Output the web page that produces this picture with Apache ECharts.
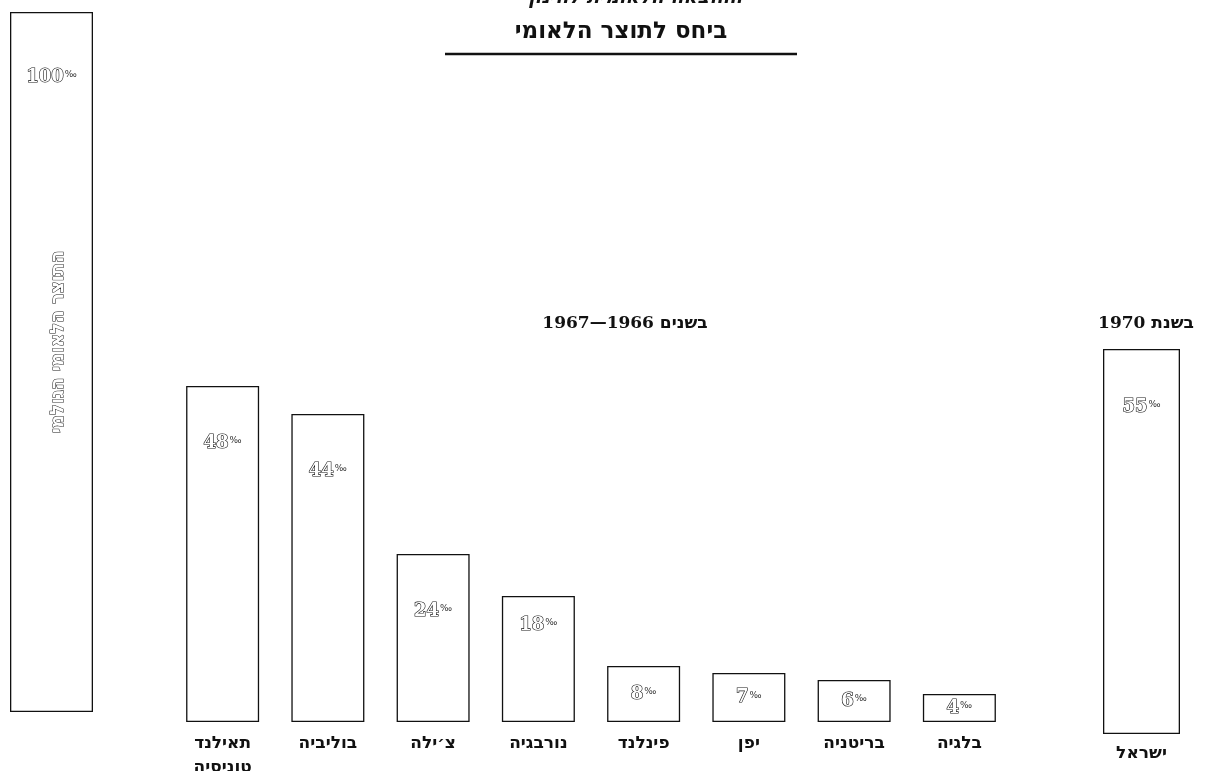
<!DOCTYPE html>
<html>
<head>
<meta charset="utf-8">
<script src="https://cdn.jsdelivr.net/npm/echarts@6/dist/echarts.min.js"></script>
<style>html,body{margin:0;padding:0;background:#fff;}#c{width:1213px;height:771px;}</style>
</head>
<body>
<div id="c"></div>
<script>
// ---- data ----
const baseCategory = ['התוצר הלאומי הגולמי'];
const baseValues = [100];
const countries = ['תאילנד\nטוניסיה', 'בוליביה', 'צ׳ילה', 'נורבגיה', 'פינלנד', 'יפן', 'בריטניה', 'בלגיה'];
const countryValues = [48, 44, 24, 18, 8, 7, 6, 4];
const israelCategory = ['ישראל'];
const israelValues = [55];
const titleText = 'ביחס לתוצר הלאומי';
const topText = 'ההוצאה הלאומית לחינוך';
const periodText = 'בשנים 1966—1967';
const yearText = 'בשנת 1970';
const unit = '‰';

// ---- styles ----
const barStyle = { color: '#fff', borderColor: '#111', borderWidth: 1.3 };
const rich = {
  n: { fontFamily: 'DejaVu Serif', fontWeight: 'bold', fontSize: 18, color: '#fff',
       textBorderColor: '#111', textBorderWidth: 1.2 },
  p: { fontFamily: 'DejaVu Sans', fontSize: 9, color: '#333', padding: [0, 0, 4, 1] }
};
function labelFor(v) {
  let lab = { show: true, formatter: '{n|' + v + '}{p|' + unit + '}', rich: rich };
  if (v >= 20) { lab.position = 'insideTop'; lab.distance = 48; }
  else if (v >= 10) { lab.position = 'insideTop'; lab.distance = 20; }
  else { lab.position = 'inside'; }
  return lab;
}
const catLabel = { fontFamily: 'DejaVu Sans', fontWeight: 'bold', fontSize: 17, color: '#111', lineHeight: 24 };
const hiddenAxis = { axisLine: { show: false }, axisTick: { show: false }, splitLine: { show: false } };

const chart = echarts.init(document.getElementById('c'), null, { renderer: 'canvas' });
chart.setOption({
  backgroundColor: '#fff',
  animation: false,
  grid: [
    { left: 10, width: 83, top: 12, height: 700, outerBoundsMode: 'none', containLabel: false },
    { left: 170, width: 842, top: 22, height: 700, outerBoundsMode: 'none', containLabel: false },
    { left: 1103, width: 77, top: 34, height: 700, outerBoundsMode: 'none', containLabel: false }
  ],
  xAxis: [
    Object.assign({ type: 'category', gridIndex: 0, data: baseCategory, axisLabel: { show: false } }, hiddenAxis),
    Object.assign({ type: 'category', gridIndex: 1, data: countries, axisLabel: Object.assign({ margin: 10, interval: 0 }, catLabel) }, hiddenAxis),
    Object.assign({ type: 'category', gridIndex: 2, data: israelCategory, axisLabel: Object.assign({ margin: 8 }, catLabel) }, hiddenAxis)
  ],
  yAxis: [0, 1, 2].map(i => Object.assign({ type: 'value', gridIndex: i, min: 0, max: 100, show: false }, hiddenAxis)),
  series: [
    { type: 'bar', xAxisIndex: 0, yAxisIndex: 0, barWidth: 83, itemStyle: barStyle,
      data: baseValues.map(v => ({ value: v, label: Object.assign(labelFor(v), { distance: 56 }) })) },
    { type: 'bar', xAxisIndex: 1, yAxisIndex: 1, barWidth: 73, itemStyle: barStyle,
      data: countryValues.map(v => ({ value: v, label: labelFor(v) })) },
    { type: 'bar', xAxisIndex: 2, yAxisIndex: 2, barWidth: 77, itemStyle: barStyle,
      data: israelValues.map(v => ({ value: v, label: Object.assign(labelFor(v), { distance: 49 }) })) }
  ],
  graphic: [
    { type: 'text', z: 100, x: 633, y: -2, style: { text: topText, font: 'italic bold 19px "DejaVu Sans"', fill: '#111', align: 'center', verticalAlign: 'middle' } },
    { type: 'text', z: 100, x: 621, y: 32, style: { text: titleText, font: 'bold 23px "DejaVu Sans"', fill: '#111', align: 'center', verticalAlign: 'middle' } },
    { type: 'line', z: 100, shape: { x1: 445, y1: 54, x2: 797, y2: 54 }, style: { stroke: '#111', lineWidth: 2.5 } },
    { type: 'text', z: 100, x: 625, y: 324, style: { text: periodText, font: 'bold 17px "DejaVu Serif", "DejaVu Sans"', fill: '#111', align: 'center', verticalAlign: 'middle' } },
    { type: 'text', z: 100, x: 1146, y: 324, style: { text: yearText, font: 'bold 17px "DejaVu Serif", "DejaVu Sans"', fill: '#111', align: 'center', verticalAlign: 'middle' } },
    { type: 'text', z: 100, x: 58, y: 342, rotation: Math.PI / 2, style: { text: baseCategory[0], font: 'bold 18px "DejaVu Sans"', fill: '#fff', stroke: '#111', lineWidth: 1, align: 'center', verticalAlign: 'middle' } }
  ]
});
</script>
</body>
</html>
